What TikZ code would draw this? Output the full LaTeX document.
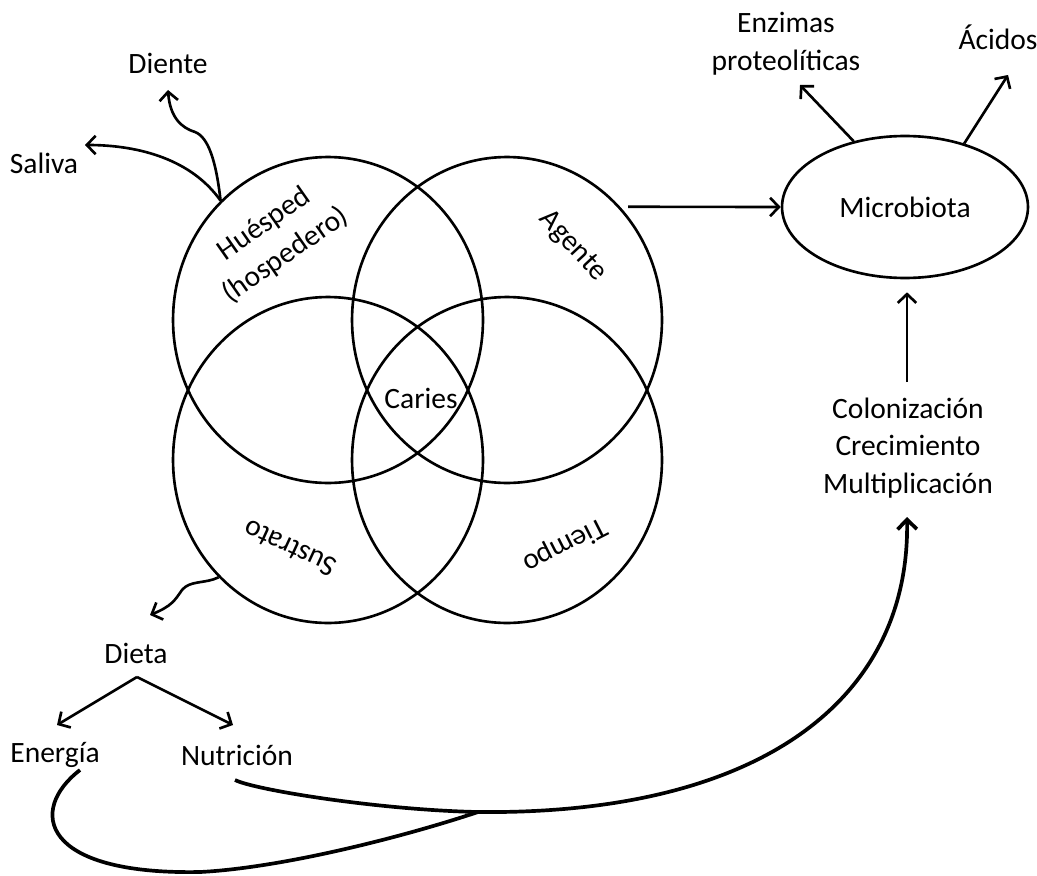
\documentclass[tikz,border=0pt]{standalone}
\usepackage{fontspec}
\setmainfont{Carlito}
\usetikzlibrary{shapes.geometric,arrows.meta,calc}
\begin{document}
\begin{tikzpicture}[x=0.02cm,y=-0.02cm,
  lbl/.style={font=\fontsize{16.8}{21.5}\selectfont, inner sep=0pt, align=center},
  venn/.style={ellipse, draw, line width=1.5pt, minimum width=6.2cm, minimum height=6.52cm, inner sep=0pt},
  oval/.style={ellipse, draw, line width=1.5pt, minimum width=4.92cm, minimum height=2.84cm, inner sep=0pt, font=\fontsize{16.8}{21.5}\selectfont},
  arr/.style={line width=1.5pt, -{Straight Barb[length=5pt,width=10.5pt]}},
  bigarr/.style={line width=2.1pt, -{Straight Barb[length=5.5pt,width=11pt]}},
  big/.style={line width=2.1pt},
]
\useasboundingbox (0,0) rectangle (1037,875);
% Venn ellipses
\node[venn] (H) at (328,320) {};
\node[venn] (A) at (507,320) {};
\node[venn] (S) at (328,460) {};
\node[venn] (T) at (507,460) {};
\node[lbl] (car) at (421,398) {Caries};
\node[lbl, rotate=35] (hl) at (275,240) {Huésped\\(hospedero)};
\node[lbl, rotate=-47] (al) at (573,246) {Agente};
\node[lbl, rotate=155] (sl) at (290,548) {Sustrato};
\node[lbl, rotate=207] (tl) at (565,545) {Tiempo};
% right side
\node[oval] (M) at (905,207) {Microbiota};
\node[lbl] (EP) at (786,44) {Enzimas\\proteolíticas};
\node[lbl] (Ac) at (998,37) {Ácidos};
\node[lbl] (C) at (908,448) {Colonización\\Crecimiento\\Multiplicación};
% left side
\node[lbl] (Di) at (168,63) {Diente};
\node[lbl] (Sa) at (44,163) {Saliva};
\node[lbl] (De) at (136,653) {Dieta};
\node[lbl] (En) at (55,755) {Energía};
\node[lbl] (Nu) at (237,755) {Nutrición};
\coordinate (J) at (478,812);
% connectors
\draw[arr] (H.132) .. controls (216,160) and (208,137) .. (195,132)
  .. controls (182,128) and (170,118) .. ($(Di)+(0,27)$);
\draw[arr] (H.132) .. controls (192,160) and (140,145) .. ($(Sa)+(41,-18)$);
\draw[arr] (S.227) .. controls (205,584) and (190,580) .. (182,590)
  .. controls (175,600) and (172,606) .. ($(De)+(14,-38)$);
\draw[arr] ($(De)+(1,24)$) -- ($(En)+(2,-30)$);
\draw[arr] ($(De)+(1,24)$) -- ($(Nu)+(-4,-30)$);
\draw[arr] ($(A.45)+(8,0)$) -- (M.west);
\draw[arr] (M.128) -- ($(EP)+(14,41)$);
\draw[arr] (M.47) -- ($(Ac)+(10,38)$);
\draw[arr] ($(C)+(-1,-66)$) -- ($(M.south)+(2,13)$);
\draw[big] ($(En)+(25,15)$) .. controls (28,810) and (40,875) .. (200,872)
  .. controls (280,868) and (400,838) .. (J);
\draw[bigarr] ($(Nu)+(-2,25)$) .. controls (255,790) and (380,810) .. (J)
  .. controls (760,815) and (910,700) .. ($(C)+(-1,69)$);
\end{tikzpicture}
\end{document}
